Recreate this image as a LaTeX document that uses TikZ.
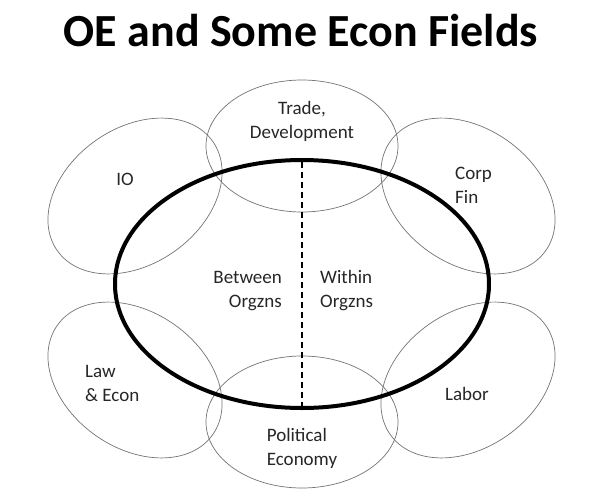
\documentclass[tikz,border=0pt]{standalone}
\usepackage{fontspec}
\setmainfont{Carlito}
\usetikzlibrary{shapes.geometric}
\begin{document}
\begin{tikzpicture}[x=1pt,y=-1pt,
  field/.style={draw=black!55,line width=0.7pt},
  lbl/.style={font=\fontsize{19}{24}\selectfont,text=black!85,inner sep=0pt}]
\useasboundingbox (0,0) rectangle (606,496);
\node[font=\fontsize{46}{50}\bfseries, inner sep=0pt] (title) at (301,31) {OE and Some Econ Fields};
\draw[field] (302,146) ellipse [x radius=96, y radius=66];
\draw[field] (302,422) ellipse [x radius=96, y radius=66];
\draw[field,rotate around={35:(135,196)}] (135,196) ellipse [x radius=95, y radius=68];
\draw[field,rotate around={-35:(468,196)}] (468,196) ellipse [x radius=95, y radius=68];
\draw[field,rotate around={-35:(135,380)}] (135,380) ellipse [x radius=95, y radius=68];
\draw[field,rotate around={35:(468,380)}] (468,380) ellipse [x radius=95, y radius=68];
\draw[line width=4pt] (302,284) ellipse [x radius=187, y radius=124];
\coordinate (dtop) at (302,162);
\coordinate (dbot) at (302,406);
\draw[line width=1.5pt,dash pattern=on 6pt off 4pt] (dtop) -- (dbot);
\node[lbl,align=center] (trade) at (302,121) {Trade,\\Development};
\node[lbl] (io) at (125,179) {IO};
\node[lbl,align=left,anchor=west] (corp) at (455,185) {Corp\\Fin};
\node[lbl,align=left,anchor=west] (law) at (85,383) {Law\\\& Econ};
\node[lbl] (labor) at (467,394) {Labor};
\node[lbl,align=left] (pol) at (302,448) {Political\\Economy};
\node[lbl,align=right,anchor=east] (betw) at (282,291) {Between\\Orgzns};
\node[lbl,align=left,anchor=west] (within) at (320,291) {Within\\Orgzns};
\end{tikzpicture}
\end{document}
